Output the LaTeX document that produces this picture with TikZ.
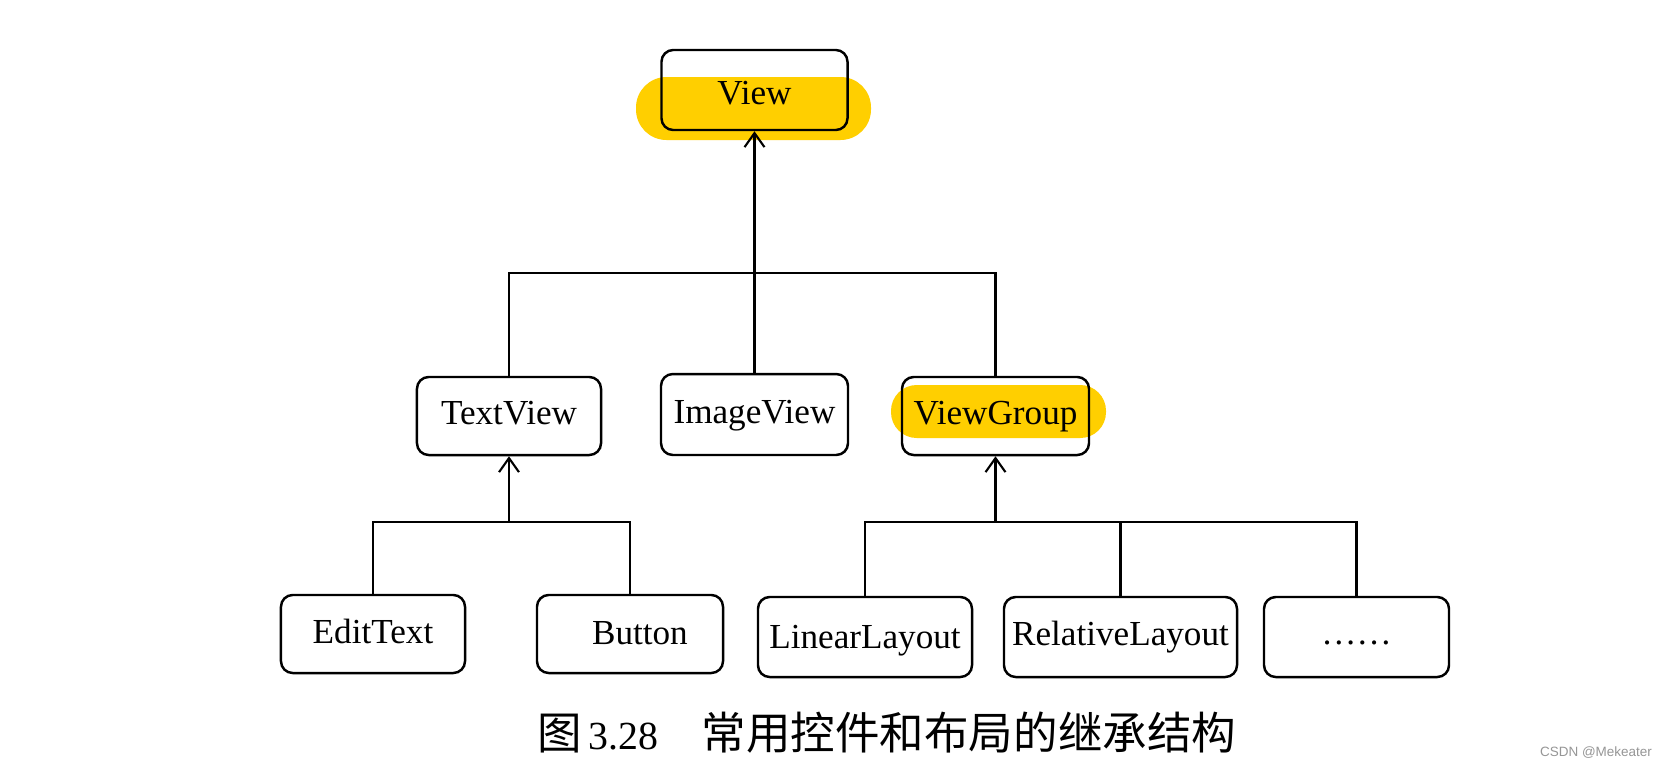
\documentclass[tikz,border=0pt]{standalone}
\usepackage{fontspec}
\setmainfont{Liberation Serif}
\newfontfamily\cjk{Noto Sans CJK SC}
\newfontfamily\wmfont{Liberation Sans}
\usetikzlibrary{arrows.meta}
\definecolor{hlyellow}{RGB}{255,207,0}
\definecolor{wmgray}{RGB}{150,150,150}
\tikzset{
 box/.style={draw, line width=2.1pt, rounded corners=10pt, inner sep=0pt, text height=0pt, text depth=0pt, font=\fontsize{30}{36}\selectfont},
 link/.style={line width=1.9pt},
 uparrow/.style={link, -{Straight Barb[length=12pt,width=17pt,line width=1.8pt]}},
 hl/.style={fill=hlyellow},
}
\begin{document}
\begin{tikzpicture}[x=0.03cm,y=-0.03cm]
\useasboundingbox (0,0) rectangle (1668,771);
\fill[white] (0,0) rectangle (1668,771);
% highlights
\fill[hl, rounded corners=26pt] (636,77) rectangle (871,140);
\fill[hl, rounded corners=22pt] (891,385) rectangle (1106,438);
% boxes
\node[box, minimum width=158.8pt, minimum height=68.3pt] (view) at (754.5,90) {\raisebox{-12.5pt}{View}};
\node[box, minimum width=157.1pt, minimum height=66.6pt] (textview) at (509,416) {\raisebox{-7.3pt}{TextView}};
\node[box, minimum width=159.6pt, minimum height=69.1pt] (imageview) at (754.5,414.5) {\raisebox{-7.6pt}{ImageView}};
\node[box, minimum width=159.6pt, minimum height=66.6pt] (viewgroup) at (995.5,416) {\raisebox{-7.6pt}{ViewGroup}};
\node[box, minimum width=157.1pt, minimum height=66.6pt] (edittext) at (373,634) {\raisebox{-8.2pt}{EditText}};
\node[box, minimum width=158.8pt, minimum height=66.6pt] (button) at (630,634) {\hspace{17pt}\raisebox{-9pt}{Button}};
\node[box, minimum width=182.7pt, minimum height=68.3pt] (linear) at (865,637) {\raisebox{-9.4pt}{LinearLayout}};
\node[box, minimum width=198.9pt, minimum height=68.3pt] (relative) at (1120.5,637) {\raisebox{-7.6pt}{RelativeLayout}};
\node[box, minimum width=157.9pt, minimum height=68.3pt] (dots) at (1356.5,637) {\raisebox{-6.5pt}{……}};
% connectors
\coordinate (topbar) at (754.5,273);
\coordinate (lbar) at (509,522);
\coordinate (rbar) at (995.5,522);
\draw[link] (textview.north) |- (topbar) -| (viewgroup.north);
\draw[uparrow] (imageview.north) -- (view.south);
\draw[link] (edittext.north) |- (lbar) -| (button.north);
\draw[uparrow] (lbar) -- (textview.south);
\draw[link] (linear.north) |- (rbar) -| (dots.north);
\draw[link] (relative.north) -- (relative.north |- rbar);
\draw[uparrow] (rbar) -- (viewgroup.south);
% caption
\node[anchor=base west, inner sep=0pt] (caption) at (537,749)
  {{\cjk\fontsize{38}{44}\selectfont 图}\hspace{6pt}{\fontsize{34}{40}\selectfont 3.28}\hspace{37pt}{\cjk\fontsize{38}{44}\selectfont 常用控件和布局的继承结构}};
\node[anchor=east, text=wmgray, font=\wmfont\fontsize{11.5}{13}\selectfont] (wm) at (1656,753) {CSDN @Mekeater};
\end{tikzpicture}
\end{document}
